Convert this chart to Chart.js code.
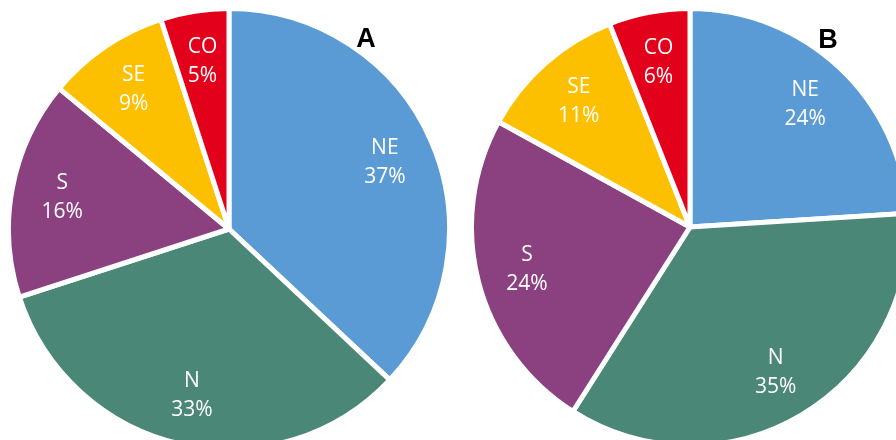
<!DOCTYPE html>
<html>
<head>
<meta charset="utf-8">
<script src="https://cdn.jsdelivr.net/npm/chart.js@4"></script>
<style>
  html, body { margin: 0; padding: 0; background: #fff; }
  body { width: 896px; height: 440px; overflow: hidden; position: relative; }
  canvas { position: absolute; }
  .tag { position: absolute; font: bold 27px "Liberation Sans", Arial, sans-serif; color: #000; transform: translate(-50%, -50%); }
</style>
</head>
<body>
<canvas id="pieA" width="446" height="446" style="left:6px; top:6px"></canvas>
<canvas id="pieB" width="442" height="442" style="left:469px; top:6px"></canvas>
<div class="tag" style="left:366px; top:38px">A</div>
<div class="tag" style="left:828px; top:39px">B</div>
<script>
// regions, clockwise from the top
const regions = ["NE", "N", "S", "SE", "CO"];
const shareA = [37, 33, 16, 9, 5];
const shareB = [24, 35, 24, 11, 6];
const colors = ["#5B9BD5", "#4A8777", "#8B4080", "#FCC000", "#E2001A"];

// white two-line labels inside each slice
const sliceLabels = {
    id: "sliceLabels",
    afterDatasetsDraw(chart) {
        const ctx = chart.ctx;
        const data = chart.data.datasets[0].data;
        const total = data.reduce((a, b) => a + b, 0);
        ctx.save();
        ctx.fillStyle = "#fff";
        ctx.font = '21px "Open Sans", sans-serif';
        ctx.textAlign = "center";
        ctx.textBaseline = "middle";
        chart.getDatasetMeta(0).data.forEach((arc, i) => {
            const {x, y, startAngle, endAngle, outerRadius} = arc.getProps(["x", "y", "startAngle", "endAngle", "outerRadius"], true);
            const mid = (startAngle + endAngle) / 2;
            const r = outerRadius * 0.77;
            const cx = x + Math.cos(mid) * r;
            const cy = y + Math.sin(mid) * r;
            ctx.fillText(chart.data.labels[i], cx, cy - 14);
            ctx.fillText(Math.round(data[i] / total * 100) + "%", cx, cy + 15);
        });
        ctx.restore();
    }
};

function makePie(id, values) {
    return new Chart(document.getElementById(id), {
        type: "pie",
        data: {
            labels: regions,
            datasets: [{
                data: values,
                backgroundColor: colors,
                borderColor: "#fff",
                borderWidth: 5
            }]
        },
        options: {
            responsive: false,
            animation: false,
            plugins: {
                legend: { display: false },
                tooltip: { enabled: false }
            }
        },
        plugins: [sliceLabels]
    });
}

makePie("pieA", shareA);
makePie("pieB", shareB);
</script>
</body>
</html>
